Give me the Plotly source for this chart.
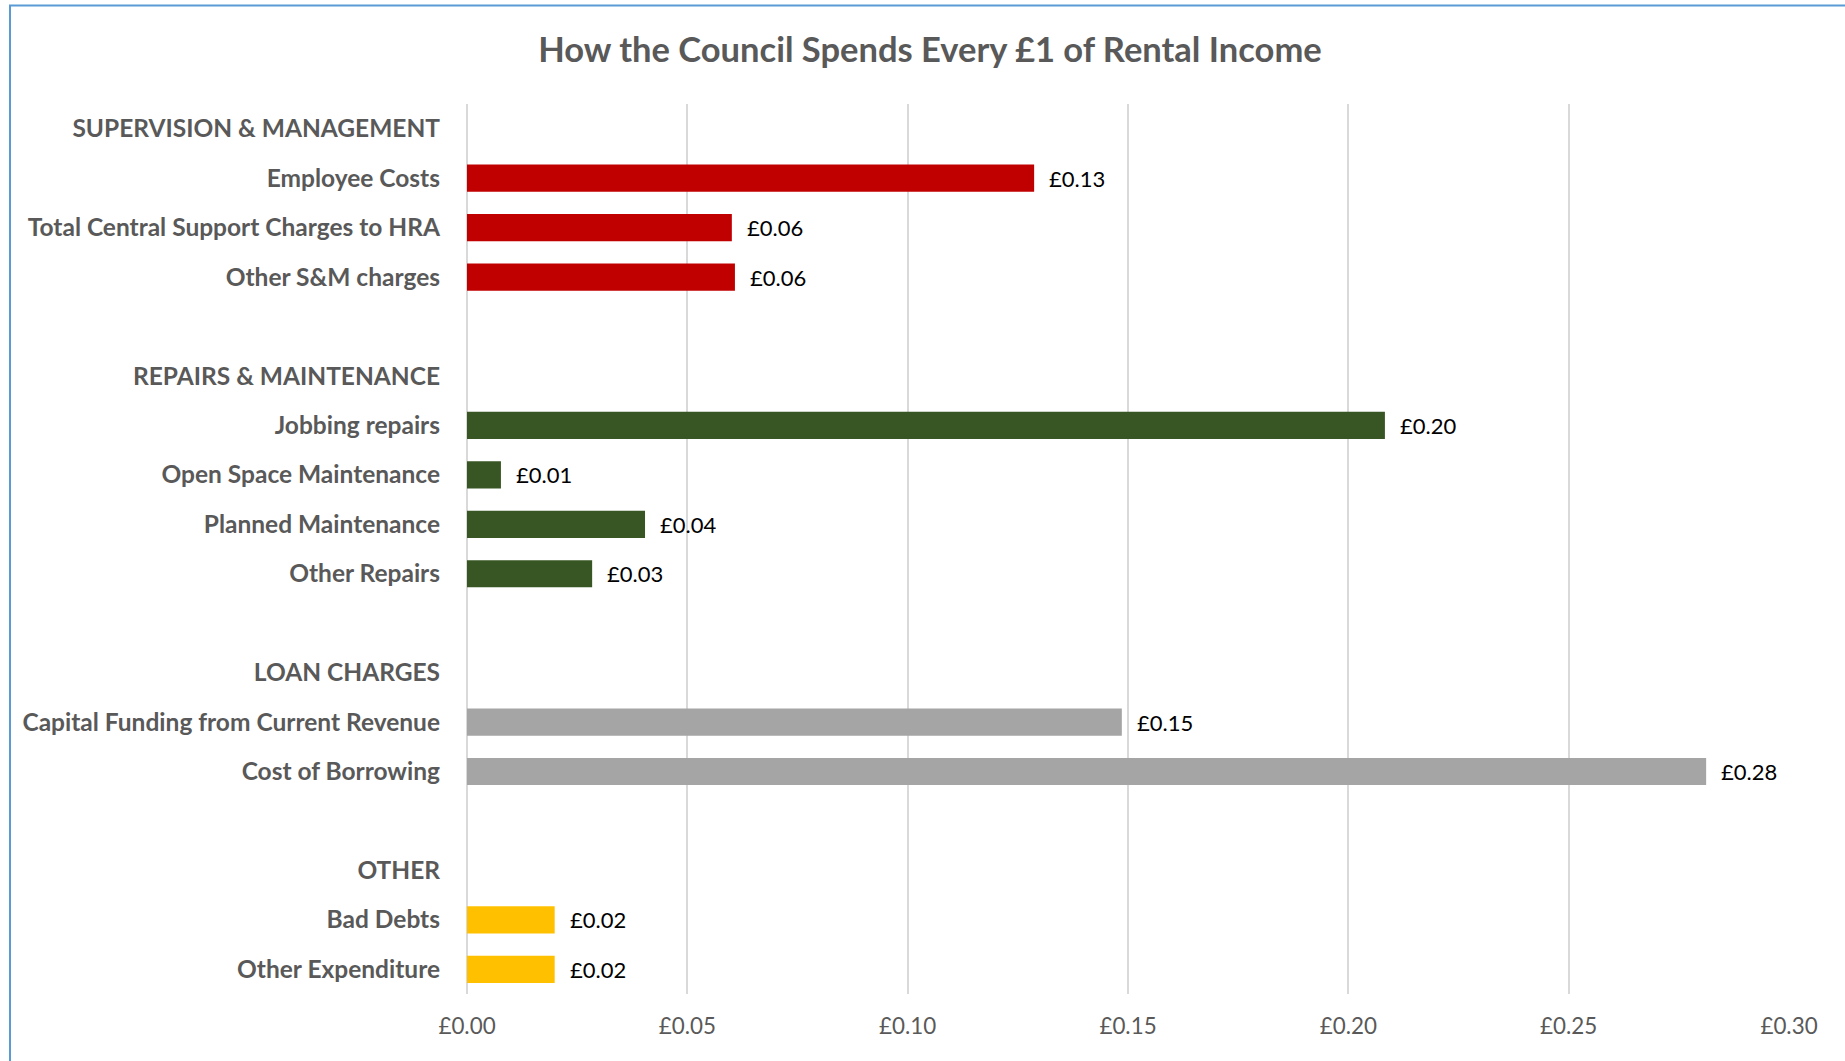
import plotly.graph_objects as go

# ---- data ----
categories = [
    "SUPERVISION & MANAGEMENT",
    "Employee Costs",
    "Total Central Support Charges to HRA",
    "Other S&M charges",
    " ",
    "REPAIRS & MAINTENANCE",
    "Jobbing repairs",
    "Open Space Maintenance",
    "Planned Maintenance",
    "Other Repairs",
    "  ",
    "LOAN CHARGES",
    "Capital Funding from Current Revenue",
    "Cost of Borrowing",
    "   ",
    "OTHER",
    "Bad Debts",
    "Other Expenditure",
]

sm_items = ["Employee Costs", "Total Central Support Charges to HRA", "Other S&M charges"]
sm_values = [0.1287, 0.0601, 0.0608]
sm_labels = ["£0.13", "£0.06", "£0.06"]

rm_items = ["Jobbing repairs", "Open Space Maintenance", "Planned Maintenance", "Other Repairs"]
rm_values = [0.2083, 0.0077, 0.0404, 0.0284]
rm_labels = ["£0.20", "£0.01", "£0.04", "£0.03"]

lc_items = ["Capital Funding from Current Revenue", "Cost of Borrowing"]
lc_values = [0.1486, 0.2812]
lc_labels = ["£0.15", "£0.28"]

ot_items = ["Bad Debts", "Other Expenditure"]
ot_values = [0.0199, 0.0199]
ot_labels = ["£0.02", "£0.02"]

x_ticks = [0.00, 0.05, 0.10, 0.15, 0.20, 0.25, 0.30]
x_ticklabels = ["£0.00", "£0.05", "£0.10", "£0.15", "£0.20", "£0.25", "£0.30"]

groups = [
    (sm_items, sm_values, sm_labels, "#C00000"),
    (rm_items, rm_values, rm_labels, "#375623"),
    (lc_items, lc_values, lc_labels, "#A5A5A5"),
    (ot_items, ot_values, ot_labels, "#FFC000"),
]

FONT = "Lato"
W, H = 1845, 1061
L, R, T, B = 467, 56, 103.5, 67
PW = W - L - R
PH = H - T - B

fig = go.Figure()
annotations = []
for items, vals, labs, col in groups:
    fig.add_trace(go.Bar(
        y=items, x=vals, orientation="h",
        marker=dict(color=col, line=dict(width=0)),
        showlegend=False, hoverinfo="skip",
    ))
    for it, v, lb in zip(items, vals, labs):
        annotations.append(dict(
            x=v, y=it, xref="x", yref="y", text=lb, showarrow=False,
            xanchor="left", yanchor="middle", xshift=13,
            font=dict(family=FONT, size=22, color="#000000"),
        ))

fig.update_layout(
    width=W, height=H,
    margin=dict(l=L, r=R, t=T, b=B, pad=0),
    paper_bgcolor="white", plot_bgcolor="white",
    bargap=0.45,
    title=dict(
        text="How the Council Spends Every £1 of Rental Income",
        x=930 / W, xanchor="center", xref="container",
        y=1 - 50 / H, yanchor="middle", yref="container",
        font=dict(family=FONT, size=34.5, color="#595959", weight="bold"),
    ),
    annotations=annotations,
    shapes=[dict(
        type="rect", xref="paper", yref="paper",
        x0=(10 - L) / PW, x1=(W + 20 - L) / PW,
        y0=-(H + 20 - (T + PH)) / PH, y1=1 + (T - 5) / PH,
        line=dict(color="#5B9BD5", width=2), fillcolor="rgba(0,0,0,0)",
        layer="above",
    )],
)

fig.update_xaxes(
    range=[0, 0.30], tickvals=x_ticks, ticktext=x_ticklabels,
    showgrid=True, gridcolor="#D9D9D9", gridwidth=1.5,
    zeroline=True, zerolinecolor="#D9D9D9", zerolinewidth=1.5,
    showline=False, ticks="",
    tickfont=dict(family=FONT, size=22.4, color="#595959"),
    ticklabelstandoff=17,
    fixedrange=True,
)
fig.update_yaxes(
    type="category", categoryorder="array", categoryarray=categories,
    tickvals=categories,
    range=[len(categories) - 0.5, -0.5],
    showgrid=False, zeroline=False, showline=False, ticks="",
    tickfont=dict(family=FONT, size=24.5, color="#595959", weight="bold"),
    ticklabelstandoff=26,
    fixedrange=True,
)

fig.write_html("out.html")
